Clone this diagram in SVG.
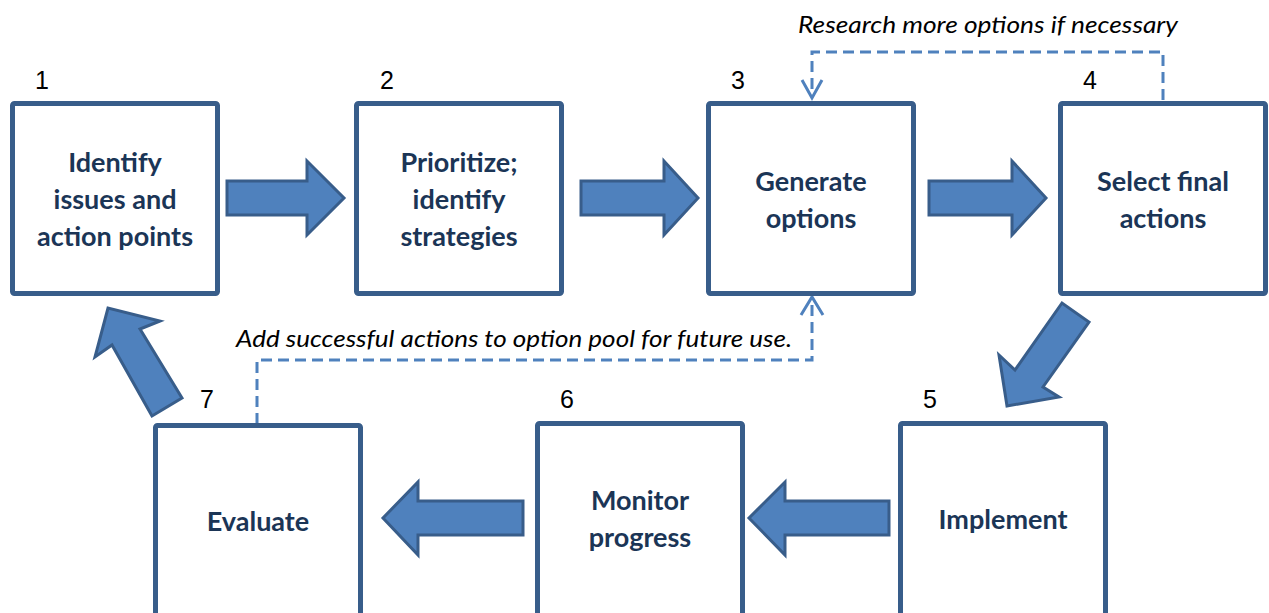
<svg xmlns="http://www.w3.org/2000/svg" width="1269" height="613" viewBox="0 0 1269 613">
<defs>
<style>
.box{fill:#fff;stroke:#385D8A;stroke-width:5;}
.lbl{font-family:Lato,"Liberation Sans",sans-serif;font-weight:bold;font-size:27px;fill:#1B3556;text-anchor:middle;}
.num{font-family:"Liberation Sans",Arial,sans-serif;font-size:25px;fill:#000;text-anchor:middle;}
.arr{fill:#4F81BD;stroke:#385D8A;stroke-width:3;stroke-linejoin:miter;}
.dash{fill:none;stroke:#4F81BD;stroke-width:3;stroke-dasharray:11 6;}
.head{fill:none;stroke:#4F81BD;stroke-width:3;}
.note{font-family:Lato,"Liberation Sans",sans-serif;font-style:italic;font-size:23px;fill:#000;}
</style>
</defs>
<rect width="1269" height="613" fill="#fff"/>
<g id="connectors">
<polygon class="arr" points="227,181 307,181 307,161 344,198 307,235 307,215 227,215"/>
<polygon class="arr" points="581,181 664,181 664,161 698,198 664,235 664,215 581,215"/>
<polygon class="arr" points="929,181 1012,181 1012,161 1046,198 1012,235 1012,215 929,215"/>
<polygon class="arr" points="1062,303 1015,370 999,355 1007,406 1059,397 1043,387 1089,322"/>
<polygon class="arr" points="889,501 785,501 785,482 749,518 785,555 785,535 889,535"/>
<polygon class="arr" points="523,501 418,501 418,482 383,518 418,555 418,535 523,535"/>
<polygon class="arr" points="152,416 112,345 95,357 108,308 160,321 140,329 182,398"/>
<path class="dash" d="M1163,100 V52 H812 V96"/>
<path class="head" d="M802,80 L812,98 L822,80"/>
<path class="dash" d="M257,424 V360 H812 V298"/>
<path class="head" d="M801,315 L812,297 L823,315"/>
<text class="note" x="798" y="33" textLength="380" lengthAdjust="spacingAndGlyphs">Research more options if necessary</text>
<text class="note" x="236" y="347" textLength="556" lengthAdjust="spacingAndGlyphs">Add successful actions to option pool for future use.</text>
</g>
<g id="node1">
<rect class="box" x="12.5" y="103.5" width="205" height="190" rx="2"/>
<text class="num" x="42" y="89">1</text>
<text class="lbl" x="115" y="172">Identify</text>
<text class="lbl" x="115" y="209">issues and</text>
<text class="lbl" x="115" y="246">action points</text>
</g>
<g id="node2">
<rect class="box" x="356.5" y="103.5" width="205" height="190" rx="2"/>
<text class="num" x="387" y="89">2</text>
<text class="lbl" x="459" y="172">Prioritize;</text>
<text class="lbl" x="459" y="209">identify</text>
<text class="lbl" x="459" y="246">strategies</text>
</g>
<g id="node3">
<rect class="box" x="708.5" y="103.5" width="205" height="190" rx="2"/>
<text class="num" x="738" y="89">3</text>
<text class="lbl" x="811" y="191">Generate</text>
<text class="lbl" x="811" y="228">options</text>
</g>
<g id="node4">
<rect class="box" x="1060.5" y="103.5" width="205" height="190" rx="2"/>
<text class="num" x="1090" y="89">4</text>
<text class="lbl" x="1163" y="191">Select final</text>
<text class="lbl" x="1163" y="228">actions</text>
</g>
<g id="node5">
<rect class="box" x="900.5" y="423.5" width="205" height="230" rx="2"/>
<text class="num" x="930" y="408">5</text>
<text class="lbl" x="1003" y="529">Implement</text>
</g>
<g id="node6">
<rect class="box" x="537.5" y="423.5" width="205" height="230" rx="2"/>
<text class="num" x="567" y="408">6</text>
<text class="lbl" x="640" y="510">Monitor</text>
<text class="lbl" x="640" y="547">progress</text>
</g>
<g id="node7">
<rect class="box" x="155.5" y="425.5" width="205" height="230" rx="2"/>
<text class="num" x="207" y="408">7</text>
<text class="lbl" x="258" y="531">Evaluate</text>
</g>
</svg>
